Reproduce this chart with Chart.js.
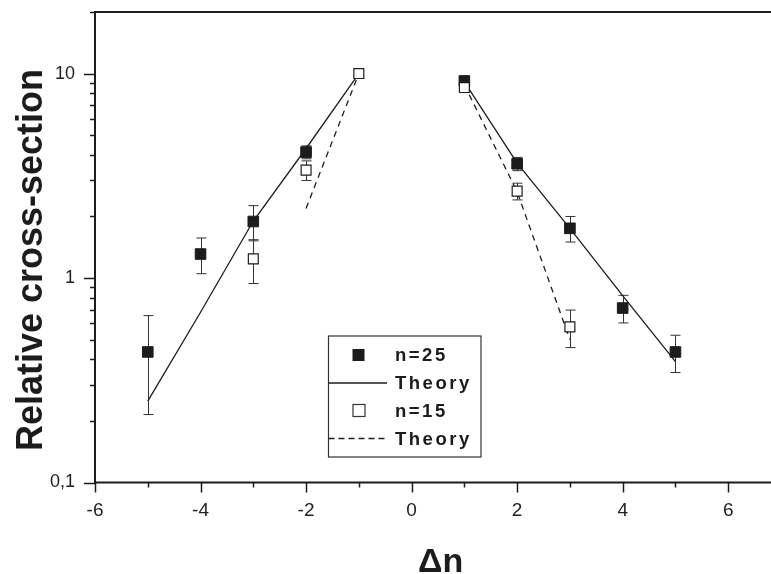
<!DOCTYPE html>
<html>
<head>
<meta charset="utf-8">
<script src="https://cdn.jsdelivr.net/npm/chart.js@4"></script>
<style>
  html, body { margin: 0; padding: 0; background: #fff; }
  #wrap { width: 771px; height: 574px; position: relative; }
</style>
</head>
<body>
<div id="wrap"><canvas id="myChart" width="771" height="574"></canvas></div>
<script>
// measured points, n = 25 (filled squares)
const n25X = [-5, -4, -3, -2, 1, 2, 3, 4, 5];
const n25Y = [0.435, 1.31, 1.89, 4.13, 9.2, 3.62, 1.75, 0.713, 0.435];
const n25Err = [0.22, 0.26, 0.37, 0.3, 0, 0.27, 0.25, 0.11, 0.09];

// measured points, n = 15 (open squares)
const n15X = [-3, -2, -1, 1, 2, 3];
const n15Y = [1.24, 3.37, 10, 8.54, 2.66, 0.577];
const n15Err = [0.3, 0.37, 0, 0, 0.25, 0.12];

// theory curves
const th25LeftX = [-5, -4, -3, -2, -1];
const th25LeftY = [0.25, 0.68, 1.9, 4.3, 10];
const th25RightX = [1, 2, 3, 4, 5];
const th25RightY = [9.1, 3.65, 1.75, 0.82, 0.39];
const th15LeftX = [-2, -1];
const th15LeftY = [2.19, 10];
const th15RightX = [1, 2, 3];
const th15RightY = [8.8, 2.64, 0.5];

// axis ticks
const xTicks = [-6, -5, -4, -3, -2, -1, 0, 1, 2, 3, 4, 5, 6];
const yTicks = [0.1, 0.2, 0.3, 0.4, 0.5, 0.6, 0.7, 0.8, 0.9, 1, 2, 3, 4, 5, 6, 7, 8, 9, 10, 20];
const yLabels = { 0.1: '0,1', 1: '1', 10: '10' };

const legendItems = ['n=25', 'Theory', 'n=15', 'Theory'];

const ink = '#1c1c1c';
const pts = (xs, ys) => xs.map((x, i) => ({ x: x, y: ys[i] }));

function lineSet(xs, ys, dash) {
  return {
    data: pts(xs, ys), showLine: true, borderColor: ink, borderWidth: 1.3,
    borderDash: dash, pointRadius: 0, fill: false, order: 5
  };
}

const extras = {
  id: 'extras',
  beforeDatasetsDraw(chart) {
    const ctx = chart.ctx, xs = chart.scales.x, ys = chart.scales.y;
    ctx.save();
    ctx.strokeStyle = '#333';
    ctx.lineWidth = 1;
    const bars = (X, Y, E) => X.forEach((x, i) => {
      if (!E[i]) return;
      const px = Math.round(xs.getPixelForValue(x)) + 0.5;
      const top = ys.getPixelForValue(Y[i] + E[i]);
      const bot = ys.getPixelForValue(Y[i] - E[i]);
      ctx.beginPath();
      ctx.moveTo(px, top); ctx.lineTo(px, bot);
      ctx.moveTo(px - 5, top); ctx.lineTo(px + 5, top);
      ctx.moveTo(px - 5, bot); ctx.lineTo(px + 5, bot);
      ctx.stroke();
    });
    bars(n25X, n25Y, n25Err);
    bars(n15X, n15Y, n15Err);
    ctx.restore();
  },
  afterDraw(chart) {
    const ctx = chart.ctx, a = chart.chartArea, xs = chart.scales.x, ys = chart.scales.y;
    ctx.save();
    ctx.strokeStyle = ink;
    ctx.lineWidth = 2;
    // frame: left, bottom, top
    ctx.beginPath();
    ctx.moveTo(a.left, a.top); ctx.lineTo(a.left, a.bottom);
    ctx.moveTo(a.left - 1, a.bottom); ctx.lineTo(chart.width, a.bottom);
    ctx.moveTo(a.left - 1, a.top); ctx.lineTo(chart.width, a.top);
    ctx.stroke();
    // tick marks
    ctx.lineWidth = 1.5;
    ctx.beginPath();
    xTicks.forEach(v => {
      const px = Math.round(xs.getPixelForValue(v)) + 0.5;
      ctx.moveTo(px, a.bottom); ctx.lineTo(px, a.bottom + (v % 2 === 0 ? 10 : 5));
    });
    yTicks.forEach(v => {
      const py = Math.round(ys.getPixelForValue(v)) + 0.5;
      ctx.moveTo(a.left, py); ctx.lineTo(a.left - (yLabels[v] ? 11 : 5), py);
    });
    ctx.stroke();

    // axis titles
    ctx.fillStyle = ink;
    ctx.font = 'bold 36px "Liberation Sans", Arial, sans-serif';
    ctx.textAlign = 'center';
    ctx.textBaseline = 'alphabetic';
    ctx.save();
    ctx.translate(42, 260);
    ctx.rotate(-Math.PI / 2);
    ctx.fillText('Relative cross-section', 0, 0);
    ctx.restore();
    ctx.font = 'bold 34px "Liberation Sans", Arial, sans-serif';
    ctx.textAlign = 'left';
    ctx.fillText('\u0394n', 418, 572);

    // legend box
    const L = 328.5, T = 336, R = 481, B = 457;
    ctx.lineWidth = 1.2;
    ctx.strokeStyle = '#333';
    ctx.strokeRect(L, T, R - L, B - T);
    const rows = [355, 383, 410.5, 438.5];
    ctx.fillStyle = ink;
    ctx.fillRect(352.5, rows[0] - 6, 12, 12);
    ctx.fillStyle = '#fff';
    ctx.fillRect(353, rows[2] - 6, 12, 12);
    ctx.lineWidth = 1.2;
    ctx.strokeRect(353, rows[2] - 6, 12, 12);
    ctx.strokeStyle = ink;
    ctx.lineWidth = 1.3;
    ctx.beginPath();
    ctx.moveTo(L, rows[1]); ctx.lineTo(387, rows[1]);
    ctx.stroke();
    ctx.setLineDash([6, 4]);
    ctx.beginPath();
    ctx.moveTo(L, rows[3]); ctx.lineTo(387, rows[3]);
    ctx.stroke();
    ctx.setLineDash([]);
    ctx.fillStyle = ink;
    ctx.font = 'bold 18.5px "Liberation Sans", Arial, sans-serif';
    ctx.textAlign = 'left';
    ctx.textBaseline = 'middle';
    ctx.letterSpacing = '2.5px';
    legendItems.forEach((t, i) => ctx.fillText(t, 395, rows[i] + 1));
    ctx.restore();
  }
};

new Chart(document.getElementById('myChart'), {
  type: 'scatter',
  data: {
    datasets: [
      {
        data: pts(n15X, n15Y), pointStyle: 'rect', pointRadius: 7,
        backgroundColor: '#fff', borderColor: ink, borderWidth: 1.2, order: 1
      },
      {
        data: pts(n25X, n25Y), pointStyle: 'rect', pointRadius: 7.5,
        backgroundColor: ink, borderColor: ink, borderWidth: 1, order: 2
      },
      lineSet(th25LeftX, th25LeftY, []),
      lineSet(th25RightX, th25RightY, []),
      lineSet(th15LeftX, th15LeftY, [6, 5]),
      lineSet(th15RightX, th15RightY, [6, 5])
    ]
  },
  options: {
    responsive: false,
    animation: false,
    devicePixelRatio: 1,
    layout: { padding: { top: 12, right: 0, left: 0, bottom: 0 } },
    plugins: { legend: { display: false }, tooltip: { enabled: false } },
    scales: {
      x: {
        type: 'linear', min: -6, max: 6.65,
        afterBuildTicks: s => { s.ticks = xTicks.map(v => ({ value: v })); },
        afterFit: s => { s.height = 91.5; s.paddingLeft = 0; s.paddingRight = 0; },
        grid: { display: true, drawOnChartArea: false, drawTicks: true, tickLength: 10, tickColor: 'rgba(0,0,0,0)' },
        border: { display: false },
        ticks: {
          autoSkip: false, maxRotation: 0, padding: 7, color: '#222',
          font: { family: '"Liberation Sans", Arial, sans-serif', size: 19 },
          callback: v => (v % 2 === 0 ? String(v) : '')
        }
      },
      y: {
        type: 'logarithmic', min: 0.1, max: 20,
        afterBuildTicks: s => { s.ticks = yTicks.map(v => ({ value: v })); },
        afterFit: s => { s.width = 95; s.paddingTop = 0; s.paddingBottom = 0; },
        grid: { display: true, drawOnChartArea: false, drawTicks: true, tickLength: 10, tickColor: 'rgba(0,0,0,0)' },
        border: { display: false },
        ticks: {
          autoSkip: false, padding: 10, color: '#222',
          font: { family: '"Liberation Sans", Arial, sans-serif', size: 18 },
          callback: v => yLabels[v] || ''
        }
      }
    }
  },
  plugins: [extras]
});
</script>
</body>
</html>
